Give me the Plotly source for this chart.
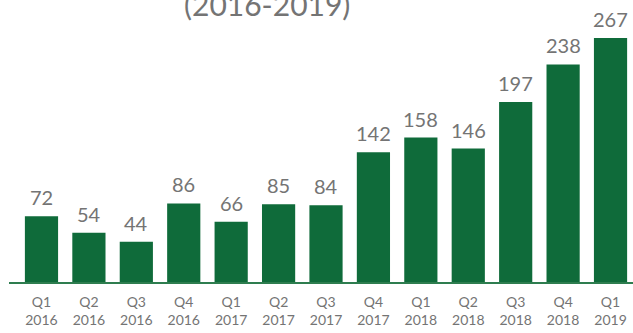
import plotly.graph_objects as go

quarters = ["Q1", "Q2", "Q3", "Q4", "Q1", "Q2", "Q3", "Q4", "Q1", "Q2", "Q3", "Q4", "Q1"]
years = ["2016", "2016", "2016", "2016", "2017", "2017", "2017", "2017", "2018", "2018", "2018", "2018", "2019"]
values = [72, 54, 44, 86, 66, 85, 84, 142, 158, 146, 197, 238, 267]

labels = [f"{q}<br>{y}" for q, y in zip(quarters, years)]
xs = list(range(len(values)))

BAR = "#0f6b3a"
GREY = "#747474"
FONT = "Lato"

fig = go.Figure(go.Bar(
    x=xs, y=values,
    marker=dict(color=BAR, line=dict(width=0)),
    width=0.7,
    hoverinfo="skip",
))

annotations = [dict(
    x=x, y=v, xref="x", yref="y", text=str(v), showarrow=False,
    xanchor="center", yanchor="bottom", yshift=5,
    font=dict(family=FONT, size=20, color=GREY),
) for x, v in zip(xs, values)]

annotations.append(dict(
    text="(2016-2019)", xref="paper", yref="paper",
    x=(267 - 9) / 624, y=1 - 4 / 282, xanchor="center", yanchor="middle",
    showarrow=False, font=dict(family=FONT, size=30, color=GREY),
))

fig.update_layout(
    width=633, height=333,
    margin=dict(l=9, r=0, t=0, b=51),
    paper_bgcolor="white", plot_bgcolor="white",
    showlegend=False,
    xaxis=dict(
        range=[-0.685, 12.474],
        tickmode="array", tickvals=xs, ticktext=labels,
        tickfont=dict(family=FONT, size=14, color=GREY),
        showgrid=False, zeroline=False,
        showline=True, linecolor="#2e7d4f", linewidth=2,
        ticks="", ticklabelstandoff=6,
    ),
    yaxis=dict(range=[0, 308.5], visible=False, showgrid=False, zeroline=False),
    annotations=annotations,
)

fig.write_html("out.html")
